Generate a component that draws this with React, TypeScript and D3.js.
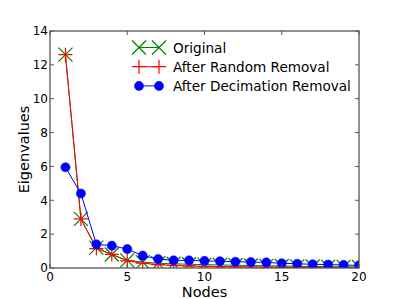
import * as d3 from 'd3';

const nodes = d3.range(1, 21);
const original = [12.6, 2.9, 1.2, 0.8, 0.45, 0.35, 0.28, 0.25, 0.22, 0.2, 0.18, 0.16, 0.15, 0.13, 0.12, 0.1, 0.09, 0.08, 0.07, 0.06];
const randomRemoval = [12.6, 2.9, 1.15, 0.8, 0.42, 0.28, 0.2, 0.15, 0.12, 0.1, 0.08, 0.07, 0.06, 0.05, 0.05, 0.04, 0.04, 0.03, 0.03, 0.02];
const decimationRemoval = [5.95, 4.4, 1.4, 1.32, 1.12, 0.73, 0.53, 0.45, 0.45, 0.42, 0.4, 0.37, 0.35, 0.33, 0.28, 0.25, 0.22, 0.2, 0.18, 0.15];
const xTicks = [0, 5, 10, 15, 20];
const yTicks = [0, 2, 4, 6, 8, 10, 12, 14];
const legendLabels = ['Original', 'After Random Removal', 'After Decimation Removal'];

const W = 399, H = 299;
const m = { left: 50, right: 40, top: 31, bottom: 31 };
const font = 'DejaVu Sans, sans-serif';

function Marker({ kind, x, y }: { kind: string; x: number; y: number }) {
  if (kind === 'x') {
    const s = 7;
    return <path d={`M${x - s},${y - s}L${x + s},${y + s}M${x - s},${y + s}L${x + s},${y - s}`} stroke="#008000" strokeWidth={1.2} fill="none" />;
  }
  if (kind === '+') {
    const s = 7;
    return <path d={`M${x - s},${y}L${x + s},${y}M${x},${y - s}L${x},${y + s}`} stroke="#ff0000" strokeWidth={1.2} fill="none" />;
  }
  return <circle cx={x} cy={y} r={4.6} fill="#0000ff" stroke="#0000ff" strokeWidth={0.5} />;
}

export default function App() {
  const x = d3.scaleLinear().domain([0, 20]).range([m.left, W - m.right]);
  const y = d3.scaleLinear().domain([0, 14]).range([H - m.bottom, m.top]);
  const line = d3.line<number>().x((_, i) => x(nodes[i])).y((d) => y(d));

  const series = [
    { data: original, color: '#008000', kind: 'x' },
    { data: randomRemoval, color: '#ff0000', kind: '+' },
    { data: decimationRemoval, color: '#0000ff', kind: 'o' },
  ];

  const x0 = x.range()[0], x1 = x.range()[1];
  const y0 = y.range()[0], y1 = y.range()[1];

  return (
    <div style={{ position: 'fixed', left: 0, top: 0 }}>
      <svg width={W} height={H} style={{ display: 'block', background: '#fff' }}>
        <defs>
          <clipPath id="plot">
            <rect x={x0} y={y1} width={x1 - x0} height={y0 - y1} />
          </clipPath>
        </defs>
        <g clipPath="url(#plot)">
          {series.map((s, si) => (
            <g key={si}>
              <path d={line(s.data) || ''} fill="none" stroke={s.color} strokeWidth={1} />
              {s.data.map((v, i) => (
                <Marker key={i} kind={s.kind} x={x(nodes[i])} y={y(v)} />
              ))}
            </g>
          ))}
        </g>
        {/* legend */}
        <g fontFamily={font} fontSize={13.6}>
          {series.map((s, i) => {
            const ly = 47.5 + i * 19.2;
            return (
              <g key={i}>
                <line x1={139} x2={159} y1={ly} y2={ly} stroke={s.color} strokeWidth={1} />
                <Marker kind={s.kind} x={139} y={ly} />
                <Marker kind={s.kind} x={159} y={ly} />
                <text x={173} y={ly + 5} fill="#000">{legendLabels[i]}</text>
              </g>
            );
          })}
        </g>
        {/* frame */}
        <rect x={x0} y={y1} width={x1 - x0} height={y0 - y1} fill="none" stroke="#555" strokeWidth={1.3} />
        {xTicks.map((t) => (
          <g key={t}>
            <line x1={x(t)} x2={x(t)} y1={y0} y2={y0 - 4} stroke="#555" />
            <line x1={x(t)} x2={x(t)} y1={y1} y2={y1 + 4} stroke="#555" />
            <text x={x(t)} y={y0 + 13} textAnchor="middle" fontFamily={font} fontSize={12} fill="#000">{t}</text>
          </g>
        ))}
        {yTicks.map((t) => (
          <g key={t}>
            <line x1={x0} x2={x0 + 4} y1={y(t)} y2={y(t)} stroke="#555" />
            <line x1={x1} x2={x1 - 4} y1={y(t)} y2={y(t)} stroke="#555" />
            <text x={x0 - 2} y={y(t) + 4.3} textAnchor="end" fontFamily={font} fontSize={12} fill="#000">{t}</text>
          </g>
        ))}
        <text x={(x0 + x1) / 2} y={296.5} textAnchor="middle" fontFamily={font} fontSize={14.5} fill="#000">Nodes</text>
        <text transform={`translate(29,${(y0 + y1) / 2}) rotate(-90)`} textAnchor="middle" fontFamily={font} fontSize={14.5} fill="#000">Eigenvalues</text>
      </svg>
    </div>
  );
}
